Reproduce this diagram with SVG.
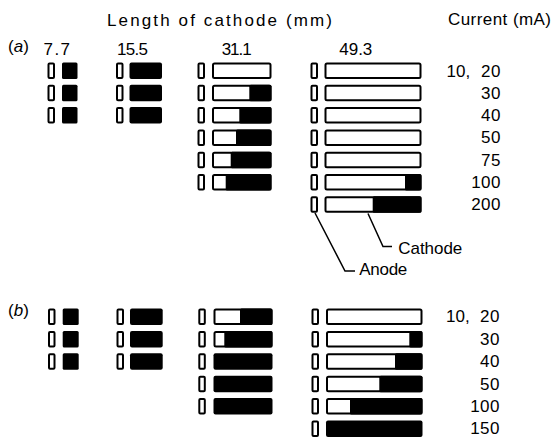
<svg xmlns="http://www.w3.org/2000/svg" width="553" height="439" viewBox="0 0 553 439">
<style>
text{font-family:"Liberation Sans",Arial,sans-serif;font-size:17px;fill:#000}
.val{text-anchor:end;letter-spacing:0.5px}
.an{fill:#fff;stroke:#000;stroke-width:2}
.ca{fill:#fff;stroke:#000;stroke-width:2}
.bk{fill:#000}
.ld{fill:none;stroke:#000;stroke-width:1.5}
</style>
<rect width="553" height="439" fill="#fff"/>
<g id="labels">
<text x="107" y="26" textLength="225" lengthAdjust="spacing">Length of cathode (mm)</text>
<text x="448" y="25" textLength="103" lengthAdjust="spacing">Current (mA)</text>
<text x="8" y="52" font-size="18">(<tspan font-style="italic">a</tspan>)</text>
<text x="8" y="316" font-size="18">(<tspan font-style="italic">b</tspan>)</text>
<text x="43.5" y="55" textLength="26.5" lengthAdjust="spacing">7.7</text>
<text x="117" y="55" textLength="31" lengthAdjust="spacing">15.5</text>
<text x="221.7" y="55" textLength="30" lengthAdjust="spacing">31.1</text>
<text x="339.3" y="55" textLength="33" lengthAdjust="spacing">49.3</text>
<text x="446.5" y="76.5">10,</text>
<text class="val" x="501" y="76.5">20</text>
<text class="val" x="501" y="98.7">30</text>
<text class="val" x="501" y="121">40</text>
<text class="val" x="501" y="143.3">50</text>
<text class="val" x="501" y="165.6">75</text>
<text class="val" x="501" y="188">100</text>
<text class="val" x="501" y="210.3">200</text>
<text x="446" y="322.3">10,</text>
<text class="val" x="500" y="322.3">20</text>
<text class="val" x="500" y="344.7">30</text>
<text class="val" x="500" y="367.1">40</text>
<text class="val" x="500" y="389.5">50</text>
<text class="val" x="500" y="411.9">100</text>
<text class="val" x="500" y="434.3">150</text>
<text x="398.3" y="254" textLength="64" lengthAdjust="spacing">Cathode</text>
<text x="359.3" y="275" textLength="48" lengthAdjust="spacing">Anode</text>
</g>
<g id="panel-a">
<g id="a-7.7">
<rect class="an" x="48.5" y="63.5" width="5.5" height="14.5" rx="1"/><rect class="bk" x="62" y="62.5" width="15.5" height="16.5" rx="1.5"/>
<rect class="an" x="48.5" y="85.8" width="5.5" height="14.5" rx="1"/><rect class="bk" x="62" y="84.8" width="15.5" height="16.5" rx="1.5"/>
<rect class="an" x="48.5" y="108.1" width="5.5" height="14.5" rx="1"/><rect class="bk" x="62" y="107.1" width="15.5" height="16.5" rx="1.5"/>
</g>
<g id="a-15.5">
<rect class="an" x="117" y="63.5" width="5.5" height="14.5" rx="1"/><rect class="bk" x="129.5" y="62.5" width="32.5" height="16.5" rx="2"/>
<rect class="an" x="117" y="85.8" width="5.5" height="14.5" rx="1"/><rect class="bk" x="129.5" y="84.8" width="32.5" height="16.5" rx="2"/>
<rect class="an" x="117" y="108.1" width="5.5" height="14.5" rx="1"/><rect class="bk" x="129.5" y="107.1" width="32.5" height="16.5" rx="2"/>
</g>
<g id="a-31.1">
<rect class="an" x="198.5" y="63.5" width="5.5" height="14.5" rx="1"/><rect class="ca" x="213" y="63.5" width="57.5" height="14.5" rx="1.5"/>
<rect class="an" x="198.5" y="85.8" width="5.5" height="14.5" rx="1"/><rect class="ca" x="213" y="85.8" width="57.5" height="14.5" rx="1.5"/><rect class="bk" x="249.3" y="84.8" width="22.2" height="16.5" rx="1.5"/>
<rect class="an" x="198.5" y="108.1" width="5.5" height="14.5" rx="1"/><rect class="ca" x="213" y="108.1" width="57.5" height="14.5" rx="1.5"/><rect class="bk" x="239.3" y="107.1" width="32.2" height="16.5" rx="1.5"/>
<rect class="an" x="198.5" y="130.4" width="5.5" height="14.5" rx="1"/><rect class="ca" x="213" y="130.4" width="57.5" height="14.5" rx="1.5"/><rect class="bk" x="236" y="129.4" width="35.5" height="16.5" rx="1.5"/>
<rect class="an" x="198.5" y="152.7" width="5.5" height="14.5" rx="1"/><rect class="ca" x="213" y="152.7" width="57.5" height="14.5" rx="1.5"/><rect class="bk" x="230.7" y="151.7" width="40.8" height="16.5" rx="1.5"/>
<rect class="an" x="198.5" y="175" width="5.5" height="14.5" rx="1"/><rect class="ca" x="213" y="175" width="57.5" height="14.5" rx="1.5"/><rect class="bk" x="225.7" y="174" width="45.8" height="16.5" rx="1.5"/>
</g>
<g id="a-49.3">
<rect class="an" x="311.5" y="63.5" width="5.5" height="14.5" rx="1"/><rect class="ca" x="325.5" y="63.5" width="95" height="14.5" rx="1.5"/>
<rect class="an" x="311.5" y="85.8" width="5.5" height="14.5" rx="1"/><rect class="ca" x="325.5" y="85.8" width="95" height="14.5" rx="1.5"/>
<rect class="an" x="311.5" y="108.1" width="5.5" height="14.5" rx="1"/><rect class="ca" x="325.5" y="108.1" width="95" height="14.5" rx="1.5"/>
<rect class="an" x="311.5" y="130.4" width="5.5" height="14.5" rx="1"/><rect class="ca" x="325.5" y="130.4" width="95" height="14.5" rx="1.5"/>
<rect class="an" x="311.5" y="152.7" width="5.5" height="14.5" rx="1"/><rect class="ca" x="325.5" y="152.7" width="95" height="14.5" rx="1.5"/>
<rect class="an" x="311.5" y="175" width="5.5" height="14.5" rx="1"/><rect class="ca" x="325.5" y="175" width="95" height="14.5" rx="1.5"/><rect class="bk" x="405" y="174" width="16.5" height="16.5" rx="1.5"/>
<rect class="an" x="311.5" y="197.3" width="5.5" height="14.5" rx="1"/><rect class="ca" x="325.5" y="197.3" width="95" height="14.5" rx="1.5"/><rect class="bk" x="372.7" y="196.3" width="48.8" height="16.5" rx="1.5"/>
</g>
</g>
<g id="panel-b">
<g id="b-7.7">
<rect class="an" x="49" y="309.5" width="5.5" height="14.5" rx="1"/><rect class="bk" x="62.7" y="308.5" width="16" height="16.5" rx="1.5"/>
<rect class="an" x="49" y="331.9" width="5.5" height="14.5" rx="1"/><rect class="bk" x="62.7" y="330.9" width="16" height="16.5" rx="1.5"/>
<rect class="an" x="49" y="354.3" width="5.5" height="14.5" rx="1"/><rect class="bk" x="62.7" y="353.3" width="16" height="16.5" rx="1.5"/>
</g>
<g id="b-15.5">
<rect class="an" x="117.5" y="309.5" width="5.5" height="14.5" rx="1"/><rect class="bk" x="130" y="308.5" width="32.7" height="16.5" rx="2"/>
<rect class="an" x="117.5" y="331.9" width="5.5" height="14.5" rx="1"/><rect class="bk" x="130" y="330.9" width="32.7" height="16.5" rx="2"/>
<rect class="an" x="117.5" y="354.3" width="5.5" height="14.5" rx="1"/><rect class="bk" x="130" y="353.3" width="32.7" height="16.5" rx="2"/>
</g>
<g id="b-31.1">
<rect class="an" x="199.3" y="309.5" width="5.5" height="14.5" rx="1"/><rect class="ca" x="214.5" y="309.5" width="57" height="14.5" rx="1.5"/><rect class="bk" x="240" y="308.5" width="32.5" height="16.5" rx="1.5"/>
<rect class="an" x="199.3" y="331.9" width="5.5" height="14.5" rx="1"/><rect class="ca" x="214.5" y="331.9" width="57" height="14.5" rx="1.5"/><rect class="bk" x="224.3" y="330.9" width="48.2" height="16.5" rx="1.5"/>
<rect class="an" x="199.3" y="354.3" width="5.5" height="14.5" rx="1"/><rect class="bk" x="213.5" y="353.3" width="59" height="16.5" rx="2"/>
<rect class="an" x="199.3" y="376.7" width="5.5" height="14.5" rx="1"/><rect class="bk" x="213.5" y="375.7" width="59" height="16.5" rx="2"/>
<rect class="an" x="199.3" y="399.1" width="5.5" height="14.5" rx="1"/><rect class="bk" x="213.5" y="398.1" width="59" height="16.5" rx="2"/>
</g>
<g id="b-49.3">
<rect class="an" x="312.5" y="309.5" width="5.5" height="14.5" rx="1"/><rect class="ca" x="327" y="309.5" width="94.5" height="14.5" rx="1.5"/>
<rect class="an" x="312.5" y="331.9" width="5.5" height="14.5" rx="1"/><rect class="ca" x="327" y="331.9" width="94.5" height="14.5" rx="1.5"/><rect class="bk" x="409.3" y="330.9" width="13.2" height="16.5" rx="1.5"/>
<rect class="an" x="312.5" y="354.3" width="5.5" height="14.5" rx="1"/><rect class="ca" x="327" y="354.3" width="94.5" height="14.5" rx="1.5"/><rect class="bk" x="395" y="353.3" width="27.5" height="16.5" rx="1.5"/>
<rect class="an" x="312.5" y="376.7" width="5.5" height="14.5" rx="1"/><rect class="ca" x="327" y="376.7" width="94.5" height="14.5" rx="1.5"/><rect class="bk" x="379.3" y="375.7" width="43.2" height="16.5" rx="1.5"/>
<rect class="an" x="312.5" y="399.1" width="5.5" height="14.5" rx="1"/><rect class="ca" x="327" y="399.1" width="94.5" height="14.5" rx="1.5"/><rect class="bk" x="350" y="398.1" width="72.5" height="16.5" rx="1.5"/>
<rect class="an" x="312.5" y="421.5" width="5.5" height="14.5" rx="1"/><rect class="bk" x="326" y="420.5" width="96.5" height="16.5" rx="2"/>
</g>
</g>
<g id="connectors">
<polyline class="ld" points="315,213 345,271 355,271"/>
<polyline class="ld" points="368,213.5 383,246.5 392,246.5"/>
</g>
</svg>
